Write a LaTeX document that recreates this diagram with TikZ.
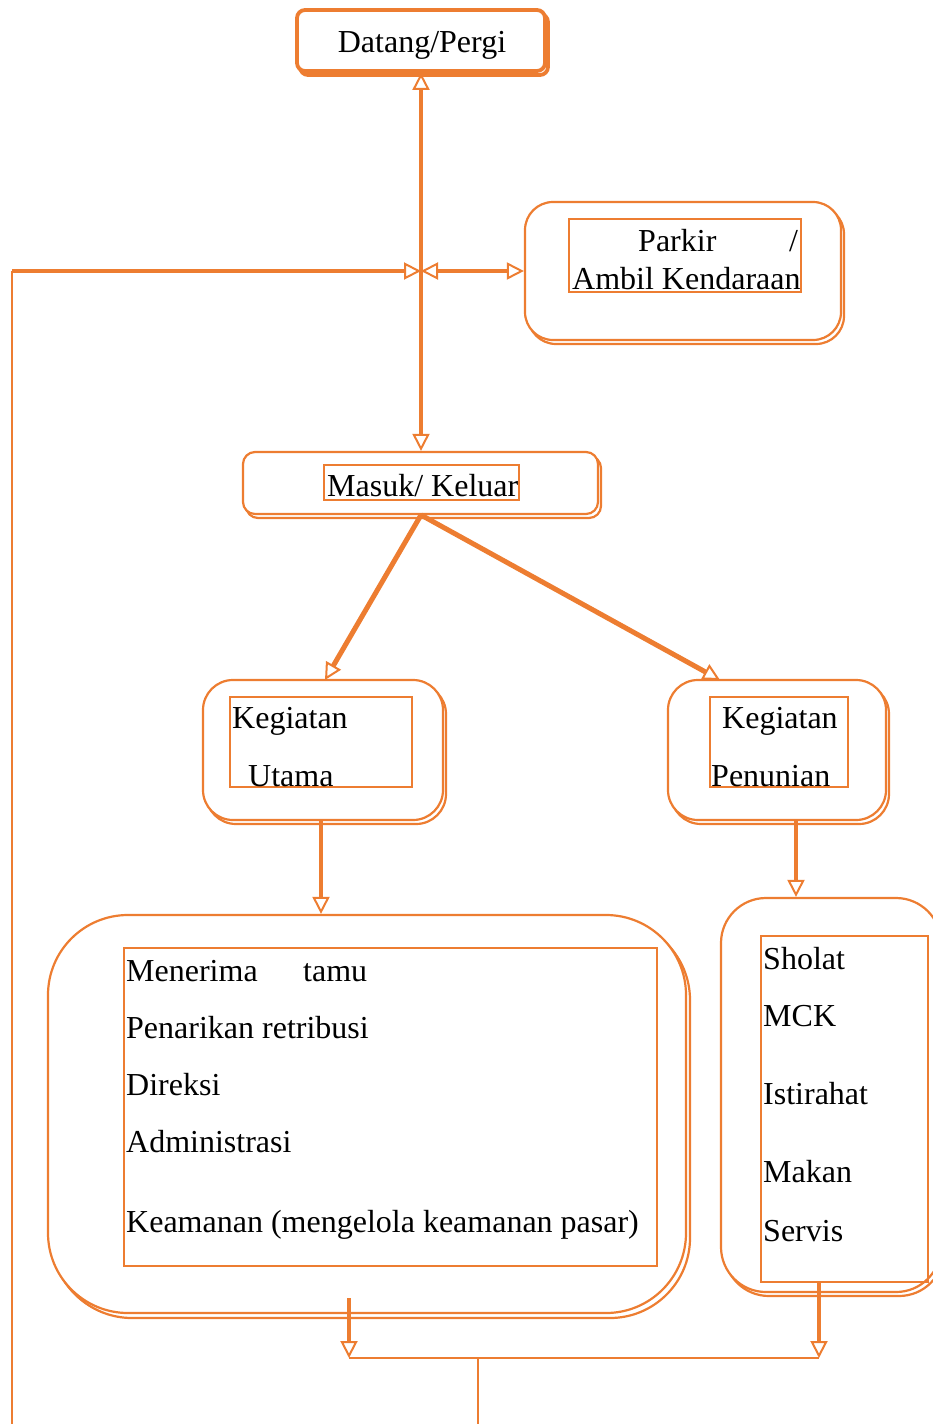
\documentclass[tikz,border=0pt]{standalone}
\usepackage{fontspec}
\setmainfont{Liberation Serif}
\usetikzlibrary{arrows.meta,shadows}
\definecolor{org}{HTML}{ED7D31}
\tikzset{
  Tri/.tip={Triangle[length=17pt,width=17pt,fill=white,line width=2pt]},
  outerbox/.style={draw=org, line width=2.2pt, fill=white, rounded corners=#1, inner sep=0pt,
    copy shadow={shadow xshift=3pt, shadow yshift=-4pt}},
  innerbox/.style={draw=org, line width=2.2pt, inner sep=0pt},
  txt/.style={inner sep=0pt, anchor=base west},
  conn/.style={draw=org, line width=4.5pt},
  thin/.style={draw=org, line width=2.2pt},
}
\begin{document}
\begin{tikzpicture}[x=1pt,y=-1pt,font=\fontsize{32}{38}\selectfont]
\useasboundingbox (0,0) rectangle (933,1424);
% Datang/Pergi
\node[outerbox=8pt, line width=3.8pt, minimum width=248pt, minimum height=61pt] (datang) at (421,40.5) {};
\node[inner sep=0pt, anchor=base] (tdat) at (422,52) {Datang/Pergi};
% Parkir
\node[outerbox=28pt, minimum width=316pt, minimum height=138pt] (parkir) at (683,271) {};
\node[innerbox, minimum width=232pt, minimum height=73pt] (parkirin) at (685,255.5) {};
\node[txt] (tp1) at (638,251) {Parkir};
\node[txt] (tp2) at (789,251) {/};
\node[txt] (tp3) at (572,289) {Ambil Kendaraan};
% Masuk/Keluar
\node[outerbox=12pt, minimum width=355pt, minimum height=62pt] (masuk) at (420.5,483) {};
\node[innerbox, minimum width=195pt, minimum height=35pt] (masukin) at (421.5,482.5) {};
\node[txt] (tm) at (327,496) {Masuk/ Keluar};
% Kegiatan Utama
\node[outerbox=30pt, minimum width=240pt, minimum height=140pt] (utama) at (323,750) {};
\node[innerbox, minimum width=182pt, minimum height=90pt] (utamain) at (321,742) {};
\node[txt] (tu1) at (232,728) {Kegiatan};
\node[txt] (tu2) at (248,786) {Utama};
% Kegiatan Penunian
\node[outerbox=30pt, minimum width=218pt, minimum height=140pt] (penun) at (777,750) {};
\node[innerbox, minimum width=138pt, minimum height=90pt] (penunin) at (779,742) {};
\node[txt] (tq1) at (722,728) {Kegiatan};
\node[txt] (tq2) at (711,786) {Penunian};
% Big box
\node[outerbox=80pt, minimum width=638pt, minimum height=398pt, copy shadow={shadow xshift=4pt, shadow yshift=-5pt}] (big) at (367,1114) {};
\node[innerbox, minimum width=533pt, minimum height=318pt] (bigin) at (390.5,1107) {};
\node[txt] (b1) at (126,981) {Menerima};
\node[txt] (b1b) at (303,981) {tamu};
\node[txt] (b2) at (126,1038) {Penarikan retribusi};
\node[txt] (b3) at (126,1095) {Direksi};
\node[txt] (b4) at (126,1152) {Administrasi};
\node[txt] (b5) at (126,1232) {Keamanan (mengelola keamanan pasar)};
% Right box
\node[outerbox=45pt, minimum width=220pt, minimum height=394pt] (rbox) at (831,1095) {};
\node[innerbox, minimum width=167pt, minimum height=346pt] (rboxin) at (844.5,1109) {};
\node[txt] (r1) at (763,969) {Sholat};
\node[txt] (r2) at (763,1026) {MCK};
\node[txt] (r3) at (763,1104) {Istirahat};
\node[txt] (r4) at (763,1182) {Makan};
\node[txt] (r5) at (763,1241) {Servis};
% connectors
\coordinate (J) at (421,271);
\coordinate (L) at (12,1424);
\coordinate (LT) at (12,271);
\draw[conn, Tri-Tri] (datang.south) -- (datang.south |- masuk.north);
\draw[thin] (L) -- (LT);
\draw[conn, -Tri] (LT) -- (J);
\draw[conn, Tri-Tri] (J) -- (parkir.west);
\coordinate (MS) at (421,515);
\draw[conn, line width=5pt, -Tri] (MS) -- (325,680);
\draw[conn, line width=5pt, -Tri] (MS) -- (720,680);
\coordinate (US) at (321,820);
\draw[conn, -Tri] (US) -- (US |- big.north);
\coordinate (PS) at (796,820);
\draw[conn, -Tri] (PS) -- (PS |- rbox.north);
\coordinate (BA) at (349,1298);
\coordinate (BB) at (349,1358);
\coordinate (RA) at (819,1283);
\coordinate (RB) at (819,1358);
\coordinate (CM) at (478,1358);
\coordinate (CB) at (478,1424);
\draw[conn, line width=4pt, -Tri] (BA) -- (BB);
\draw[conn, line width=4pt, -Tri] (RA) -- (RB);
\draw[draw=org, line width=2.8pt] (BB) -- (RB);
\draw[thin] (CM) -- (CB);
\end{tikzpicture}
\end{document}
